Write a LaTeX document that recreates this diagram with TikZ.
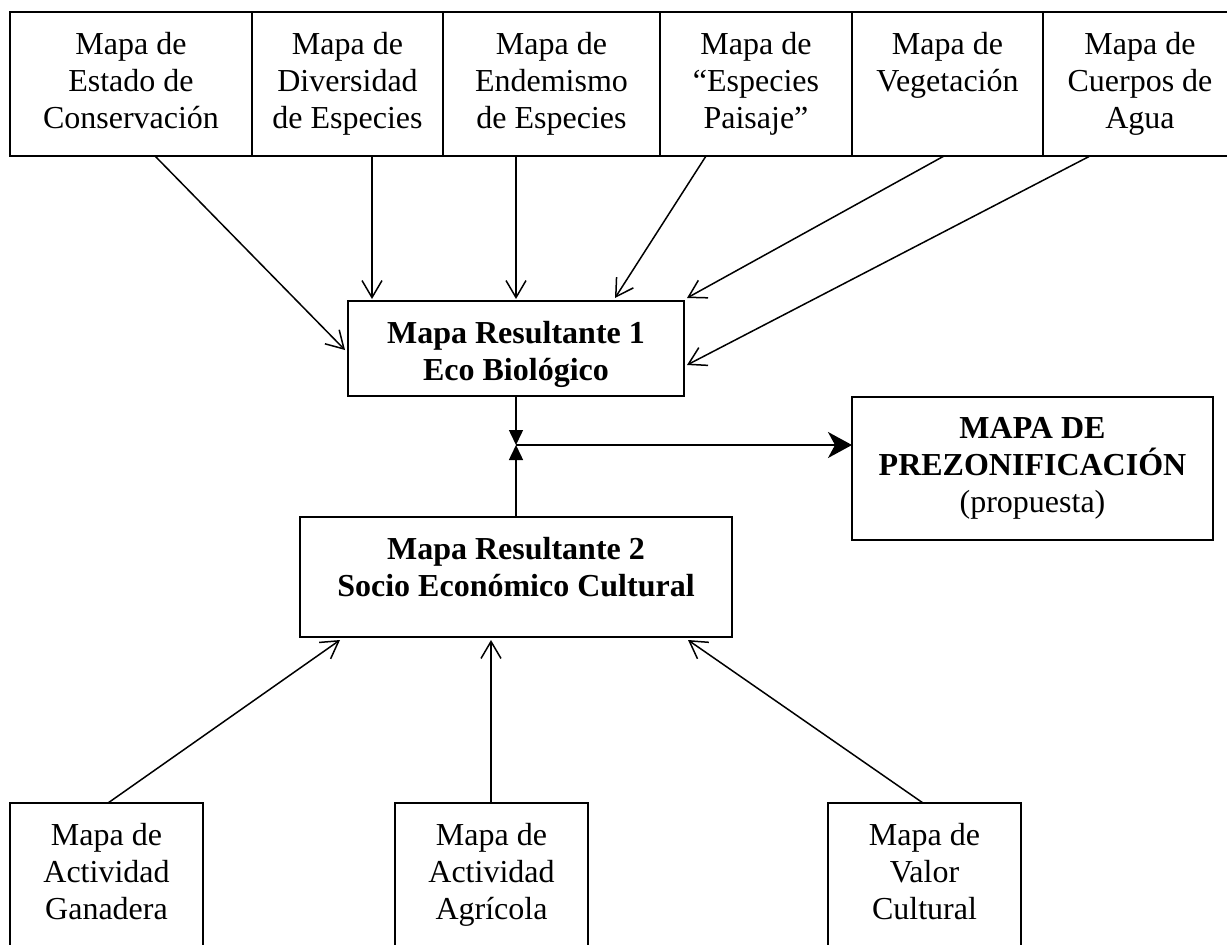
\documentclass[tikz,border=0pt]{standalone}
\usepackage{fontspec}
\setmainfont{Liberation Serif}
\usetikzlibrary{arrows.meta}
\begin{document}
\begin{tikzpicture}[x=1pt,y=-1pt,
  box/.style={draw, line width=1.6pt, inner sep=0pt, outer sep=0pt, anchor=north west},
  txt/.style={align=center, inner sep=0pt, anchor=north, font=\fontsize{32}{37}\selectfont},
  boldtxt/.style={txt, font=\fontsize{32}{37}\selectfont\bfseries},
  feed/.style={line width=1.5pt, -{Straight Barb[length=17pt,width=20pt]}},
  joinarrow/.style={line width=1.5pt, -{Triangle[length=15pt,width=14pt]}},
  mainarrow/.style={line width=1.8pt, -{Stealth[length=24pt,width=26pt,inset=7pt]}}
]
\fill[white] (0,0) rectangle (1227,945);
\useasboundingbox (0,0) rectangle (1227,945);

% top row of source maps
\node[box, minimum width=242pt, minimum height=144pt] (estado) at (10,12) {};
\node[box, minimum width=191pt, minimum height=144pt] (divers) at (252,12) {};
\node[box, minimum width=217pt, minimum height=144pt] (endem) at (443,12) {};
\node[box, minimum width=192pt, minimum height=144pt] (paisaje) at (660,12) {};
\node[box, minimum width=191pt, minimum height=144pt] (veget) at (852,12) {};
\node[box, minimum width=194pt, minimum height=144pt] (agua) at (1043,12) {};

\node[txt] at ([yshift=-20pt]estado.north) {Mapa de\\Estado de\\Conservación};
\node[txt] at ([yshift=-20pt]divers.north) {Mapa de\\Diversidad\\de Especies};
\node[txt] at ([yshift=-20pt]endem.north) {Mapa de\\Endemismo\\de Especies};
\node[txt] at ([yshift=-20pt]paisaje.north) {Mapa de\\``Especies\\Paisaje''};
\node[txt] at ([yshift=-20pt]veget.north) {Mapa de\\Vegetación};
\node[txt] at ([yshift=-20pt]agua.north) {Mapa de\\Cuerpos de\\Agua};

% result maps
\node[box, minimum width=336pt, minimum height=95pt] (eco) at (348,301) {};
\node[boldtxt] at ([yshift=-20pt]eco.north) {Mapa Resultante 1\\Eco Biológico};

\node[box, minimum width=432pt, minimum height=120pt] (socio) at (300,517) {};
\node[boldtxt] at ([yshift=-20pt]socio.north) {Mapa Resultante 2\\Socio Económico Cultural};

\node[box, minimum width=361pt, minimum height=143pt] (prezon) at (852,397) {};
\node[txt] at ([yshift=-20pt]prezon.north) {\textbf{MAPA DE}\\\textbf{PREZONIFICACIÓN}\\(propuesta)};

% bottom row of source maps
\node[box, minimum width=193pt, minimum height=200pt] (ganad) at (10,803) {};
\node[box, minimum width=193pt, minimum height=200pt] (agric) at (395,803) {};
\node[box, minimum width=193pt, minimum height=200pt] (valor) at (828,803) {};

\node[txt] at ([yshift=-20pt]ganad.north) {Mapa de\\Actividad\\Ganadera};
\node[txt] at ([yshift=-20pt]agric.north) {Mapa de\\Actividad\\Agrícola};
\node[txt] at ([yshift=-20pt]valor.north) {Mapa de\\Valor\\Cultural};

% inputs of the eco-biological map
\draw[feed] ([xshift=145pt]estado.south west) -- ([xshift=-3pt,yshift=-49pt]eco.north west);
\draw[feed] ([xshift=120pt]divers.south west) -- ([xshift=24pt,yshift=2pt]eco.north west);
\draw[feed] ([xshift=73pt]endem.south west) -- ([yshift=2pt]eco.north);
\draw[feed] ([xshift=46pt]paisaje.south west) -- ([xshift=-69pt,yshift=3pt]eco.north east);
\draw[feed] ([xshift=92pt]veget.south west) -- ([xshift=3pt,yshift=3pt]eco.north east);
\draw[feed] ([xshift=47pt]agua.south west) -- ([xshift=3pt,yshift=-64pt]eco.north east);

% inputs of the socio-economic map
\draw[feed] ([xshift=98pt]ganad.north west) -- ([xshift=40pt,yshift=-3pt]socio.south west);
\draw[feed] ([xshift=96pt]agric.north west) -- ([xshift=-25pt,yshift=-3pt]socio.south);
\draw[feed] ([xshift=95pt]valor.north west) -- ([xshift=-44pt,yshift=-3pt]socio.south east);

% combination of both results
\coordinate (j) at ([yshift=-49pt]eco.south);
\draw[joinarrow] (eco.south) -- (j);
\draw[joinarrow] (socio.north) -- (j);
\draw[mainarrow] (j) -- (prezon.west |- j);
\end{tikzpicture}
\end{document}
